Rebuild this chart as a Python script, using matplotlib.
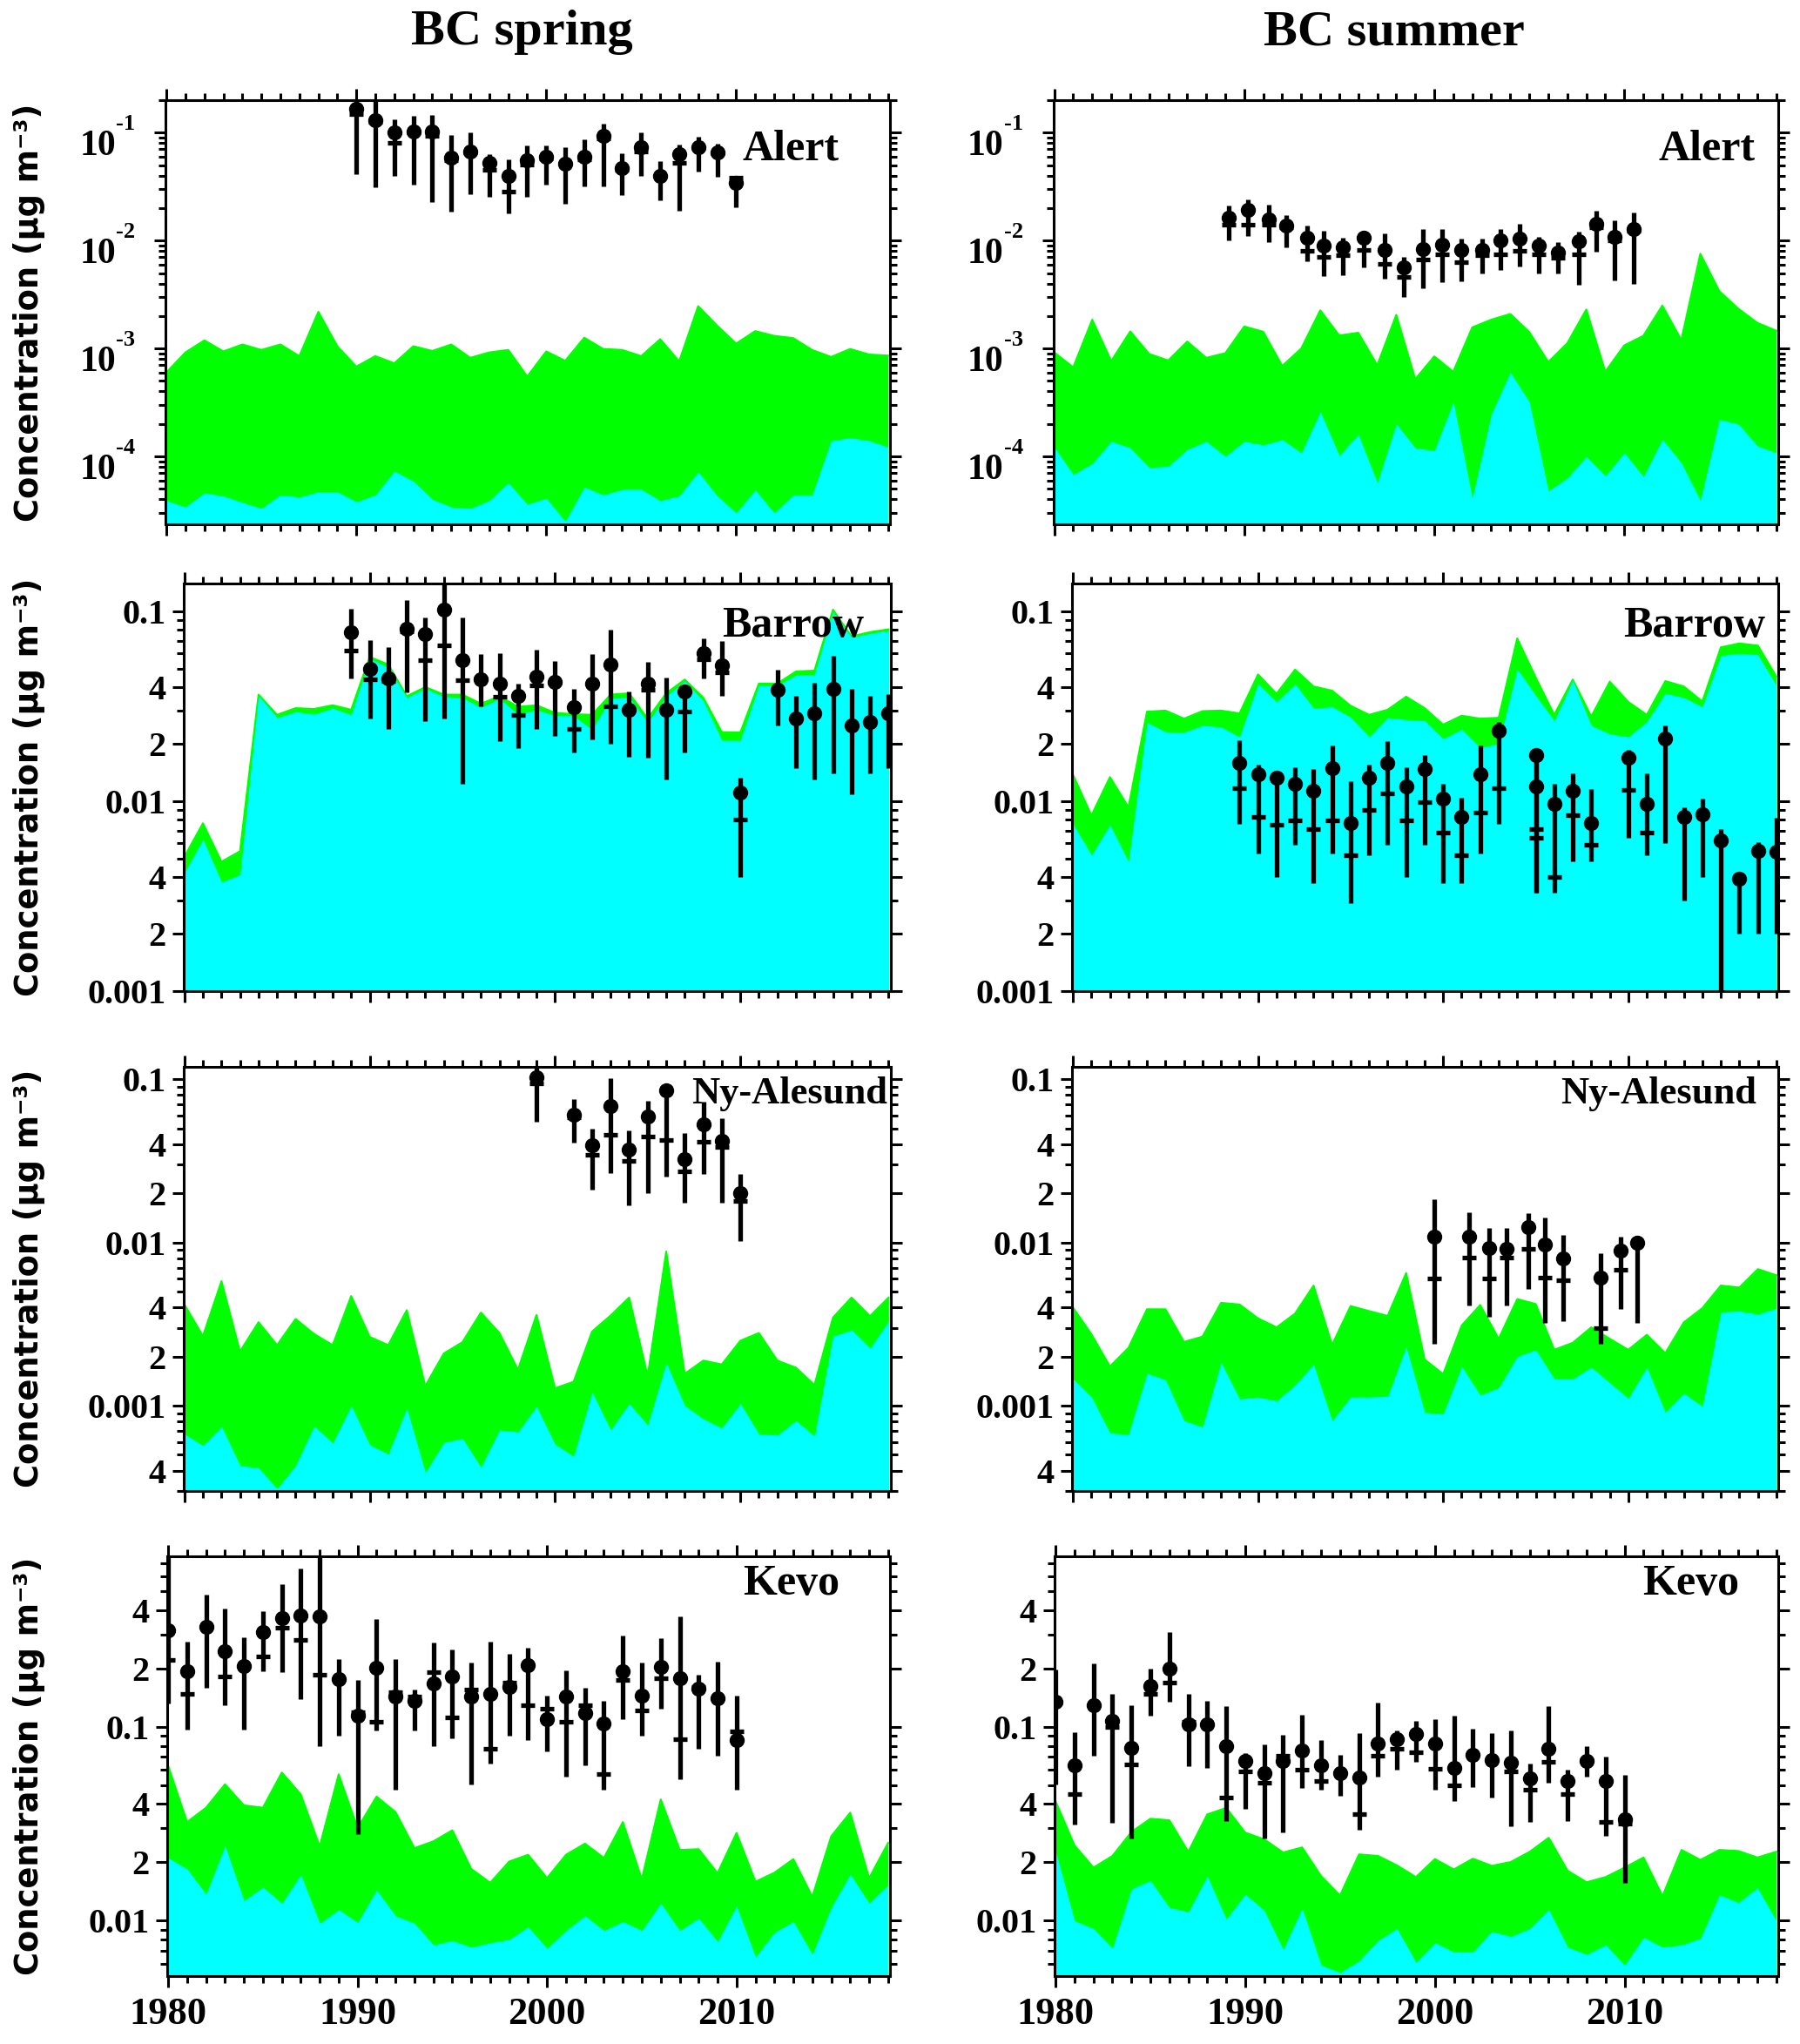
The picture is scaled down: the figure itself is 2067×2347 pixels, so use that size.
import numpy as np
import matplotlib.pyplot as plt
from matplotlib.transforms import blended_transform_factory, offset_copy

nan = np.nan

plt.rcParams['font.family'] = 'Liberation Serif'
plt.rcParams['font.weight'] = 'bold'

years = np.arange(1980, 2019)

# ---------------- Alert ----------------
alert_spr_green = [6.0e-4, 9.2e-4, 1.19e-3, 9.4e-4, 1.09e-3, 9.7e-4, 1.09e-3, 8.5e-4, 2.19e-3, 1.05e-3,
                   6.8e-4, 8.5e-4, 7.3e-4, 1.05e-3, 9.5e-4, 1.09e-3, 8.2e-4, 9.2e-4, 9.7e-4, 5.5e-4,
                   9.4e-4, 7.7e-4, 1.26e-3, 9.9e-4, 9.7e-4, 8.5e-4, 1.22e-3, 7.6e-4, 2.47e-3, 1.63e-3,
                   1.11e-3, 1.45e-3, 1.31e-3, 1.25e-3, 9.7e-4, 8.35e-4, 9.9e-4, 8.8e-4, 8.6e-4]
alert_spr_cyan = [3.9e-5, 3.4e-5, 4.6e-5, 4.3e-5, 3.75e-5, 3.3e-5, 4.4e-5, 4.2e-5, 4.7e-5, 4.7e-5,
                  3.8e-5, 4.4e-5, 7.3e-5, 5.9e-5, 4.0e-5, 3.4e-5, 3.3e-5, 3.9e-5, 5.7e-5, 3.6e-5,
                  4.1e-5, 2.5e-5, 5.2e-5, 4.4e-5, 4.95e-5, 4.95e-5, 3.9e-5, 4.3e-5, 7.2e-5, 4.3e-5,
                  3.0e-5, 4.9e-5, 3.0e-5, 4.4e-5, 4.4e-5, 1.4e-4, 1.49e-4, 1.4e-4, 1.22e-4]
alert_spr_yr = list(range(1990, 2011))
alert_spr_mean = [0.165, 0.131, 0.100, 0.103, 0.103, 0.0587, 0.067, 0.052, 0.040, 0.055, 0.0595,
                  0.0514, 0.0595, 0.094, 0.0466, 0.074, 0.040, 0.063, 0.074, 0.066, 0.0345]
alert_spr_med = [0.149, 0.125, 0.081, 0.100, 0.094, 0.055, 0.066, 0.045, 0.0283, 0.051, 0.058,
                 0.0514, 0.057, 0.0875, 0.045, 0.067, 0.0394, 0.052, 0.072, 0.064, 0.038]
alert_spr_lo = [0.041, 0.031, 0.040, 0.033, 0.0228, 0.0186, 0.027, 0.0255, 0.018, 0.0255, 0.033,
                0.022, 0.0316, 0.032, 0.0264, 0.040, 0.0235, 0.019, 0.0435, 0.039, 0.0205]
alert_spr_hi = [0.25, 0.25, 0.132, 0.142, 0.147, 0.095, 0.100, 0.063, 0.057, 0.076, 0.076,
                0.074, 0.086, 0.12, 0.064, 0.100, 0.054, 0.078, 0.0917, 0.079, 0.039]

alert_sum_green = [9.2e-4, 6.7e-4, 1.85e-3, 7.65e-4, 1.44e-3, 8.9e-4, 7.75e-4, 1.16e-3, 8.2e-4, 9.05e-4,
                   1.6e-3, 1.43e-3, 6.9e-4, 1.0e-3, 2.26e-3, 1.32e-3, 1.4e-3, 7.0e-4, 2.05e-3, 5.2e-4,
                   8.45e-4, 6.1e-4, 1.57e-3, 1.85e-3, 2.09e-3, 1.42e-3, 7.5e-4, 1.12e-3, 2.3e-3, 6.1e-4,
                   1.07e-3, 1.31e-3, 2.5e-3, 1.2e-3, 7.55e-3, 3.4e-3, 2.34e-3, 1.73e-3, 1.46e-3]
alert_sum_cyan = [1.22e-4, 6.8e-5, 8.6e-5, 1.38e-4, 1.2e-4, 7.9e-5, 8.1e-5, 1.16e-4, 1.38e-4, 1.0e-4,
                  1.38e-4, 1.28e-4, 1.43e-4, 1.08e-4, 2.59e-4, 1.02e-4, 1.6e-4, 5.7e-5, 2.0e-4, 1.2e-4,
                  1.13e-4, 3.2e-4, 4.1e-5, 2.47e-4, 6.0e-4, 3.2e-4, 4.8e-5, 6.3e-5, 1.0e-4, 6.6e-5,
                  1.08e-4, 6.5e-5, 1.44e-4, 8.7e-5, 3.9e-5, 2.2e-4, 2.0e-4, 1.25e-4, 1.08e-4]
alert_sum_yr = [1989.2, 1990.2, 1991.3, 1992.2, 1993.3, 1994.2, 1995.2, 1996.3, 1997.4, 1998.4, 1999.4,
                2000.4, 2001.4, 2002.5, 2003.5, 2004.5, 2005.5, 2006.5, 2007.6, 2008.5, 2009.5, 2010.5]
alert_sum_mean = [0.0164, 0.0191, 0.0157, 0.0137, 0.0106, 0.0090, 0.0087, 0.0107, 0.0082, 0.0056, 0.0083,
                  0.0092, 0.0082, 0.0082, 0.0101, 0.0105, 0.0089, 0.0077, 0.0098, 0.0143, 0.0108, 0.0128]
alert_sum_med = [0.0141, 0.0140, 0.0141, 0.0133, 0.0080, 0.0070, 0.0073, 0.0082, 0.0061, 0.0046, 0.0067,
                 0.0074, 0.0063, 0.0073, 0.0074, 0.0080, 0.0074, 0.0069, 0.0075, 0.0132, 0.0101, 0.0124]
alert_sum_lo = [0.0101, 0.0110, 0.0096, 0.0086, 0.0064, 0.0047, 0.0048, 0.0056, 0.0044, 0.0030, 0.0036,
                0.0041, 0.0042, 0.0050, 0.0053, 0.0057, 0.0050, 0.0050, 0.0039, 0.0079, 0.0043, 0.0040]
alert_sum_hi = [0.0212, 0.0239, 0.0216, 0.0171, 0.0139, 0.0124, 0.0107, 0.0124, 0.0116, 0.0070, 0.0128,
                0.0128, 0.0105, 0.0105, 0.0128, 0.0144, 0.0108, 0.0096, 0.0120, 0.0188, 0.0153, 0.0183]

# ---------------- Barrow ----------------
barrow_spr_green = [5.1e-3, 7.65e-3, 4.8e-3, 5.45e-3, 0.0364, 0.0285, 0.0309, 0.0306, 0.032, 0.0303,
                    0.0574, 0.0525, 0.0357, 0.0399, 0.0364, 0.0364, 0.0326, 0.0357, 0.0314, 0.032,
                    0.0292, 0.0287, 0.0285, 0.0364, 0.037, 0.0272, 0.037, 0.0437, 0.0351, 0.0231,
                    0.023, 0.0416, 0.0416, 0.0482, 0.0487, 0.102, 0.0736, 0.0777, 0.0803]
barrow_spr_cyan = [4.2e-3, 6.3e-3, 3.75e-3, 4.1e-3, 0.036, 0.0275, 0.0296, 0.0287, 0.0309, 0.0285,
                   0.0564, 0.0506, 0.0351, 0.0392, 0.0355, 0.0351, 0.0311, 0.0347, 0.0287, 0.0303,
                   0.0282, 0.0282, 0.0238, 0.0347, 0.0353, 0.026, 0.0357, 0.0429, 0.0338, 0.0209,
                   0.0209, 0.0406, 0.0406, 0.0461, 0.0465, 0.0993, 0.0728, 0.0764, 0.0792]
barrow_spr_yr = list(range(1989, 2011)) + list(range(2012, 2019))
barrow_spr_mean = [0.0775, 0.050, 0.0445, 0.0812, 0.076, 0.102, 0.0553, 0.0437, 0.0414, 0.036, 0.0453,
                   0.0426, 0.0312, 0.0417, 0.0524, 0.0303, 0.0417, 0.0303, 0.0378, 0.060, 0.0519, 0.0111,
                   0.0387, 0.0272, 0.029, 0.0392, 0.025, 0.0262, 0.029]
barrow_spr_med = [0.0622, 0.0437, 0.043, 0.0783, 0.0553, 0.0659, 0.0432, 0.0445, 0.0355, 0.0285, 0.0406,
                  0.042, 0.0241, 0.0417, 0.0315, 0.0303, 0.0385, 0.0303, 0.0298, 0.0557, 0.0475, 0.008,
                  nan, nan, nan, nan, nan, nan, nan]
barrow_spr_lo = [0.0442, 0.0272, 0.0239, 0.0373, 0.0265, 0.0272, 0.0123, 0.0315, 0.0208, 0.019, 0.024,
                 0.0221, 0.018, 0.0211, 0.0201, 0.0171, 0.017, 0.013, 0.018, 0.0442, 0.036, 0.004,
                 0.025, 0.015, 0.013, 0.014, 0.0109, 0.014, 0.015]
barrow_spr_hi = [0.103, 0.0702, 0.065, 0.114, 0.093, 0.15, 0.0923, 0.0595, 0.060, 0.0414, 0.063,
                 0.0548, 0.039, 0.0595, 0.0803, 0.0378, 0.0544, 0.0448, 0.0406, 0.072, 0.0694, 0.0133,
                 0.049, 0.0357, 0.042, 0.058, 0.039, 0.0357, 0.0368]

barrow_sum_green = [0.0138, 8.4e-3, 0.0134, 9.3e-3, 0.0296, 0.030, 0.0272, 0.0298, 0.030, 0.029,
                    0.0465, 0.0368, 0.0493, 0.0402, 0.0382, 0.0318, 0.0285, 0.0303, 0.0355, 0.0309,
                    0.0253, 0.0282, 0.0272, 0.0275, 0.072, 0.0448, 0.0285, 0.0437, 0.0279, 0.0426,
                    0.0333, 0.0285, 0.0429, 0.0402, 0.0335, 0.0646, 0.0677, 0.066, 0.0453]
barrow_sum_cyan = [7.6e-3, 5.2e-3, 7.5e-3, 4.8e-3, 0.026, 0.0232, 0.0231, 0.025, 0.0246, 0.0218,
                   0.0416, 0.0333, 0.0414, 0.0309, 0.0314, 0.0277, 0.0218, 0.0275, 0.0269, 0.0265,
                   0.0213, 0.0239, 0.0191, 0.0201, 0.0496, 0.036, 0.0265, 0.0432, 0.025, 0.0226,
                   0.0218, 0.0262, 0.037, 0.0351, 0.0314, 0.0585, 0.060, 0.059, 0.0406]
barrow_sum_yr = list(range(1989, 2004)) + [2005, 2005, 2006, 2007, 2008] + list(range(2010, 2019))
barrow_sum_mean = [0.0159, 0.0138, 0.0133, 0.0123, 0.0113, 0.0149, 0.0077, 0.0133, 0.0159, 0.0119,
                   0.0148, 0.0103, 0.0083, 0.0138, 0.0235, 0.0174, 0.0119, 0.0097, 0.0113, 0.0077,
                   0.0169, 0.0097, 0.0214, 0.0083, 0.0085, 0.0062, 0.0039, 0.0055, 0.0054]
barrow_sum_med = [0.0117, 0.0083, 0.0075, 0.0079, 0.0071, 0.0079, 0.0052, 0.0090, 0.0110, 0.0079,
                  0.0099, 0.0068, 0.0052, 0.0087, 0.0117, 0.0071, 0.0064, 0.0040, 0.0084, 0.0059,
                  0.0115, 0.0068, nan, nan, nan, nan, nan, nan, nan]
barrow_sum_lo = [0.0076, 0.0053, 0.0040, 0.0059, 0.0037, 0.0053, 0.0029, 0.0052, 0.0059, 0.0040,
                 0.0059, 0.0037, 0.0037, 0.0053, 0.0076, 0.0033, 0.0033, 0.0033, 0.0048, 0.0048,
                 0.0064, 0.0052, 0.006, 0.003, 0.004, 0.0009, 0.002, 0.002, 0.002]
barrow_sum_hi = [0.021, 0.0155, 0.0141, 0.0151, 0.0148, 0.0196, 0.0128, 0.0155, 0.0208, 0.0151,
                 0.0175, 0.0124, 0.0104, 0.0196, 0.0262, 0.0187, 0.0187, 0.0124, 0.014, 0.0116,
                 0.0187, 0.014, 0.025, 0.0093, 0.0103, 0.0071, 0.0042, 0.0061, 0.0082]

# ---------------- Ny-Alesund ----------------
ny_spr_green = [4.17e-3, 2.67e-3, 5.8e-3, 2.15e-3, 3.25e-3, 2.35e-3, 3.4e-3, 2.75e-3, 2.35e-3, 4.7e-3,
                2.64e-3, 2.35e-3, 3.85e-3, 1.32e-3, 2.09e-3, 2.45e-3, 3.72e-3, 2.79e-3, 1.66e-3, 3.6e-3,
                1.28e-3, 1.4e-3, 2.85e-3, 3.57e-3, 4.6e-3, 1.52e-3, 8.8e-3, 1.57e-3, 1.89e-3, 1.79e-3,
                2.5e-3, 2.79e-3, 1.89e-3, 1.71e-3, 1.34e-3, 3.47e-3, 4.6e-3, 3.54e-3, 4.6e-3]
ny_spr_cyan = [6.7e-4, 5.7e-4, 7.45e-4, 4.3e-4, 4.15e-4, 3.1e-4, 4.3e-4, 7.5e-4, 5.9e-4, 1.0e-3,
               5.75e-4, 5.05e-4, 9.65e-4, 3.9e-4, 5.95e-4, 6.3e-4, 4.2e-4, 7.1e-4, 6.9e-4, 9.9e-4,
               5.8e-4, 4.9e-4, 1.21e-3, 7.1e-4, 1.03e-3, 7.6e-4, 1.83e-3, 1.0e-3, 8.3e-4, 7.3e-4,
               1.03e-3, 6.7e-4, 6.6e-4, 8.1e-4, 6.5e-4, 2.67e-3, 2.91e-3, 2.25e-3, 3.3e-3]
ny_spr_yr = [1999] + list(range(2001, 2011))
ny_spr_mean = [0.1026, 0.0603, 0.0396, 0.0686, 0.037, 0.0595, 0.0852, 0.0325, 0.0529, 0.0421, 0.020]
ny_spr_med = [0.095, 0.0585, 0.0344, 0.0455, 0.0315, 0.0445, 0.0427, 0.0273, 0.0417, 0.0386, 0.0179]
ny_spr_lo = [0.0552, 0.0408, 0.0211, 0.0265, 0.0168, 0.020, 0.0254, 0.0176, 0.0262, 0.0176, 0.0102]
ny_spr_hi = [0.13, 0.0755, 0.050, 0.102, 0.0486, 0.0742, 0.091, 0.047, 0.0732, 0.0577, 0.0262]

ny_sum_green = [4.0e-3, 2.74e-3, 1.74e-3, 2.26e-3, 3.9e-3, 3.9e-3, 2.46e-3, 2.65e-3, 4.27e-3, 4.17e-3,
                3.43e-3, 3.02e-3, 3.67e-3, 5.45e-3, 2.36e-3, 4.08e-3, 3.8e-3, 3.55e-3, 6.5e-3, 1.92e-3,
                1.56e-3, 3.1e-3, 4.14e-3, 2.57e-3, 4.5e-3, 4.2e-3, 2.2e-3, 2.43e-3, 3.02e-3, 2.57e-3,
                2.2e-3, 2.72e-3, 2.1e-3, 3.24e-3, 3.96e-3, 5.45e-3, 5.3e-3, 6.87e-3, 6.3e-3]
ny_sum_cyan = [1.46e-3, 1.13e-3, 6.8e-4, 6.65e-4, 1.58e-3, 1.44e-3, 8.1e-4, 7.4e-4, 1.84e-3, 1.1e-3,
               1.13e-3, 1.07e-3, 1.34e-3, 1.79e-3, 8.1e-4, 1.13e-3, 1.13e-3, 1.14e-3, 2.3e-3, 9.1e-4,
               8.9e-4, 1.74e-3, 1.16e-3, 1.29e-3, 2.0e-3, 2.2e-3, 1.46e-3, 1.46e-3, 1.72e-3, 1.38e-3,
               1.11e-3, 1.72e-3, 9.1e-4, 1.19e-3, 9.9e-4, 3.75e-3, 3.8e-3, 3.64e-3, 3.96e-3]
ny_sum_yr = [1999.5, 2001.4, 2002.5, 2003.4, 2004.6, 2005.5, 2006.5, 2008.5, 2009.6, 2010.5]
ny_sum_mean = [0.0108, 0.0108, 0.0093, 0.0091, 0.0125, 0.0097, 0.0080, 0.0061, 0.0089, 0.010]
ny_sum_med = [0.0060, 0.0081, 0.0060, 0.0081, 0.0091, 0.0061, 0.0059, 0.0030, 0.0068, nan]
ny_sum_lo = [0.0024, 0.0041, 0.0035, 0.0041, 0.0052, 0.0032, 0.0033, 0.0024, 0.0039, 0.0032]
ny_sum_hi = [0.0185, 0.0154, 0.0123, 0.0123, 0.0152, 0.0143, 0.0111, 0.0086, 0.0109, 0.011]

# ---------------- Kevo ----------------
kevo_spr_green = [0.063, 0.0323, 0.0383, 0.0506, 0.0394, 0.0383, 0.0582, 0.0449, 0.0242, 0.057,
                  0.0301, 0.0437, 0.0364, 0.0237, 0.0257, 0.0293, 0.0185, 0.0157, 0.0202, 0.0219,
                  0.0166, 0.0219, 0.0250, 0.0211, 0.0323, 0.0164, 0.0423, 0.0232, 0.0234, 0.0176,
                  0.0284, 0.0159, 0.0177, 0.0208, 0.0133, 0.0273, 0.0361, 0.0166, 0.0252]
kevo_spr_cyan = [0.0211, 0.0185, 0.0137, 0.0244, 0.0127, 0.0149, 0.0123, 0.0173, 0.0097, 0.0114,
                 0.0098, 0.0144, 0.0106, 0.0097, 0.0075, 0.0079, 0.0073, 0.0077, 0.008, 0.0093,
                 0.0072, 0.0089, 0.0106, 0.0089, 0.0099, 0.0089, 0.0123, 0.0089, 0.0103, 0.0078,
                 0.0119, 0.0065, 0.0087, 0.0099, 0.0067, 0.0117, 0.0174, 0.0123, 0.0153]
kevo_spr_yr = list(range(1980, 2011))
kevo_spr_mean = [0.316, 0.194, 0.329, 0.246, 0.207, 0.31, 0.364, 0.376, 0.371, 0.176, 0.114, 0.202,
                 0.143, 0.137, 0.167, 0.183, 0.144, 0.148, 0.161, 0.208, 0.110, 0.143, 0.118, 0.104,
                 0.194, 0.145, 0.204, 0.179, 0.158, 0.141, 0.086]
kevo_spr_med = [0.221, 0.148, 0.329, 0.183, 0.207, 0.232, 0.325, 0.281, 0.186, 0.176, 0.119, 0.106,
                0.151, 0.143, 0.192, 0.112, 0.156, 0.077, 0.170, 0.130, 0.124, 0.106, 0.129, 0.057,
                0.174, 0.122, 0.179, 0.0866, 0.161, 0.141, 0.0946]
kevo_spr_lo = [0.1315, 0.097, 0.159, 0.129, 0.097, 0.194, 0.191, 0.139, 0.0794, 0.090, 0.0279, 0.096,
               0.0473, 0.096, 0.080, 0.087, 0.0506, 0.065, 0.090, 0.086, 0.0745, 0.0555, 0.0635, 0.0473,
               0.110, 0.090, 0.124, 0.0537, 0.0775, 0.071, 0.0473]
kevo_spr_hi = [0.8, 0.277, 0.481, 0.409, 0.289, 0.397, 0.546, 0.656, 0.8, 0.224, 0.174, 0.360,
               0.224, 0.156, 0.273, 0.252, 0.215, 0.277, 0.239, 0.256, 0.145, 0.196, 0.159, 0.137,
               0.295, 0.216, 0.286, 0.371, 0.186, 0.218, 0.145]

kevo_sum_green = [0.0414, 0.0245, 0.0188, 0.0216, 0.0287, 0.0336, 0.033, 0.0227, 0.0354, 0.0382,
                  0.0285, 0.0263, 0.0225, 0.0239, 0.017, 0.0135, 0.022, 0.0216, 0.0193, 0.0168,
                  0.0208, 0.0184, 0.0209, 0.0192, 0.0201, 0.0227, 0.0268, 0.0181, 0.0158, 0.0168,
                  0.0188, 0.0212, 0.0134, 0.0232, 0.0206, 0.0232, 0.0229, 0.0212, 0.0227]
kevo_sum_cyan = [0.0229, 0.010, 0.0091, 0.0072, 0.0146, 0.0161, 0.0117, 0.0111, 0.017, 0.0102,
                 0.0137, 0.0113, 0.0071, 0.0116, 0.0059, 0.0054, 0.0062, 0.0079, 0.0091, 0.0061,
                 0.0077, 0.0069, 0.0069, 0.0088, 0.0083, 0.0091, 0.0114, 0.0073, 0.0067, 0.0075,
                 0.0059, 0.0082, 0.0073, 0.0075, 0.0081, 0.0136, 0.0124, 0.0148, 0.010]
kevo_sum_yr = list(range(1980, 2011))
kevo_sum_mean = [0.1355, 0.0632, 0.130, 0.108, 0.078, 0.162, 0.2, 0.103, 0.103, 0.080, 0.0666, 0.058,
                 0.0666, 0.0758, 0.0632, 0.058, 0.0546, 0.082, 0.0868, 0.0924, 0.082, 0.0615, 0.072,
                 0.0674, 0.0653, 0.054, 0.077, 0.0525, 0.0666, 0.0525, 0.0334]
kevo_sum_med = [0.134, 0.0449, 0.130, 0.1, 0.064, 0.148, 0.170, 0.106, 0.103, 0.0431, 0.059, 0.0515,
                0.0712, 0.0603, 0.0525, 0.058, 0.0354, 0.0712, 0.077, 0.074, 0.0608, 0.0499, 0.072,
                0.0674, 0.059, 0.0476, 0.0658, 0.0449, 0.0674, 0.0323, 0.0318]
kevo_sum_lo = [0.0505, 0.0314, 0.0712, 0.032, 0.0265, 0.114, 0.135, 0.063, 0.0615, 0.0327, 0.0378,
               0.0265, 0.0287, 0.0485, 0.0476, 0.0443, 0.0296, 0.0553, 0.0603, 0.0658, 0.0476, 0.0415,
               0.0491, 0.043, 0.0306, 0.0323, 0.0515, 0.0327, 0.0553, 0.0274, 0.0157]
kevo_sum_hi = [0.197, 0.094, 0.213, 0.148, 0.130, 0.2, 0.31, 0.148, 0.137, 0.128, 0.073, 0.081,
               0.091, 0.116, 0.086, 0.072, 0.093, 0.133, 0.096, 0.107, 0.11, 0.114, 0.098, 0.093,
               0.096, 0.0648, 0.128, 0.0603, 0.080, 0.070, 0.0568]

stations = ['Alert', 'Barrow', 'Ny-Alesund', 'Kevo']
ylims = [(2.35e-5, 0.2), (0.001, 0.14), (3.0e-4, 0.12), (0.0052, 0.76)]

panels = [
    [(alert_spr_green, alert_spr_cyan, alert_spr_yr, alert_spr_mean, alert_spr_med, alert_spr_lo, alert_spr_hi),
     (alert_sum_green, alert_sum_cyan, alert_sum_yr, alert_sum_mean, alert_sum_med, alert_sum_lo, alert_sum_hi)],
    [(barrow_spr_green, barrow_spr_cyan, barrow_spr_yr, barrow_spr_mean, barrow_spr_med, barrow_spr_lo, barrow_spr_hi),
     (barrow_sum_green, barrow_sum_cyan, barrow_sum_yr, barrow_sum_mean, barrow_sum_med, barrow_sum_lo, barrow_sum_hi)],
    [(ny_spr_green, ny_spr_cyan, ny_spr_yr, ny_spr_mean, ny_spr_med, ny_spr_lo, ny_spr_hi),
     (ny_sum_green, ny_sum_cyan, ny_sum_yr, ny_sum_mean, ny_sum_med, ny_sum_lo, ny_sum_hi)],
    [(kevo_spr_green, kevo_spr_cyan, kevo_spr_yr, kevo_spr_mean, kevo_spr_med, kevo_spr_lo, kevo_spr_hi),
     (kevo_sum_green, kevo_sum_cyan, kevo_sum_yr, kevo_sum_mean, kevo_sum_med, kevo_sum_lo, kevo_sum_hi)],
]

# layout in pixels (figure is 2067 x 2347)
W, H = 2067, 2347
row_y = [(115, 602), (670, 1138), (1224.5, 1712), (1787, 2268.6)]
left_x = [(190, 1022), (210.7, 1022.5), (210.7, 1022.5), (192, 1022)]
right_x = [(1209.5, 2042), (1231, 2042), (1231, 2042), (1211, 2042)]
label_pos = [[(0.930, 0.860), (0.968, 0.860)],
             [(0.962, 0.870), (0.982, 0.870)],
             [(0.996, 0.912), (0.969, 0.912)],
             [(0.930, 0.909), (0.946, 0.909)]]
label_size = [36, 36, 32, 36]

fig = plt.figure(figsize=(W / 100, H / 100), dpi=100)


def log_ticks(ylim, alert):
    lo, hi = ylim
    majors, labels, minors = [], [], []
    for e in range(-6, 1):
        d = 10.0 ** e
        if alert:
            majors.append(d)
            labels.append(str(e))
            minors += [m * d for m in range(2, 10)]
        else:
            for m in (1, 2, 4):
                majors.append(m * d)
                labels.append(('%.*f' % (-e, d)) if m == 1 else str(m))
            minors += [m * d for m in (3, 5, 6, 7, 8, 9)]
    keep = [(v, l) for v, l in zip(majors, labels) if lo * 0.999 <= v <= hi * 1.001]
    minors = [v for v in minors if lo <= v <= hi]
    return [v for v, _ in keep], [l for _, l in keep], minors


for r in range(4):
    y0, y1 = row_y[r]
    for c in range(2):
        x0, x1 = (left_x if c == 0 else right_x)[r]
        ax = fig.add_axes([x0 / W, 1 - y1 / H, (x1 - x0) / W, (y1 - y0) / H])
        green, cyan, oyr, omean, omed, olo, ohi = panels[r][c]

        ax.fill_between(years, 1e-9, green, color='#00ff00', lw=0, zorder=1)
        ax.plot(years, green, color='#00ff00', lw=1.5, zorder=1)
        ax.fill_between(years, 1e-9, cyan, color='#00ffff', lw=0, zorder=2)

        ax.vlines(oyr, olo, ohi, color='black', lw=3.8, zorder=3)
        ax.plot(oyr, omed, '_', color='black', ms=12, mew=3.8, zorder=4)
        ax.plot(oyr, omean, 'o', color='black', ms=11.5, zorder=5)

        ax.set_yscale('log')
        ax.set_xlim(1979.95, 2018.1)
        ax.set_ylim(*ylims[r])
        majors, labels, minors = log_ticks(ylims[r], r == 0)
        if r == 0:
            # power-of-ten labels drawn as "10" with a small raised exponent
            ax.set_yticks(majors, [''] * len(majors))
            trans = blended_transform_factory(ax.transAxes, ax.transData)
            t_base = offset_copy(trans, fig=fig, x=-57, y=-26, units='dots')
            t_exp = offset_copy(trans, fig=fig, x=-57, y=21, units='dots')
            for v, e in zip(majors, labels):
                ax.text(0, v, '10', transform=t_base, ha='right', va='baseline',
                        fontsize=30, fontweight='bold', clip_on=False)
                ax.text(0, v, e, transform=t_exp, ha='left', va='top',
                        fontsize=19, fontweight='bold', clip_on=False)
        else:
            ax.set_yticks(majors, labels)
        ax.set_yticks(minors, minor=True)
        ax.set_yticklabels([], minor=True)
        ax.set_xticks(range(1980, 2020, 10))
        ax.set_xticks(range(1980, 2019), minor=True)
        if r < 3:
            ax.set_xticklabels([])

        ax.tick_params(which='both', direction='out', top=True, right=True, width=2.2)
        ax.tick_params(which='major', length=9.5)
        ax.tick_params(which='minor', length=5.5)
        ax.tick_params(axis='y', which='major', labelsize=29, pad=5)
        ax.tick_params(axis='x', which='major', labelsize=32, pad=8)
        for s in ax.spines.values():
            s.set_linewidth(2.2)
            s.set_zorder(6)

        lx, ly = label_pos[r][c]
        ax.text(lx, ly, stations[r], transform=ax.transAxes, ha='right', va='baseline',
                fontsize=label_size[r], fontweight='bold', zorder=7)

    fig.text(34 / W, 1 - (y0 + y1) / 2 / H, 'Concentration (μg m⁻³)', rotation=90,
             ha='center', va='center', family='DejaVu Sans', fontweight='bold', fontsize=26.5)

fig.text(599 / W, 1 - 37 / H, 'BC spring', ha='center', va='center', fontsize=42, fontweight='bold')
fig.text(1601 / W, 1 - 37 / H, 'BC summer', ha='center', va='center', fontsize=42, fontweight='bold')

fig.savefig('out.png', dpi=100)
